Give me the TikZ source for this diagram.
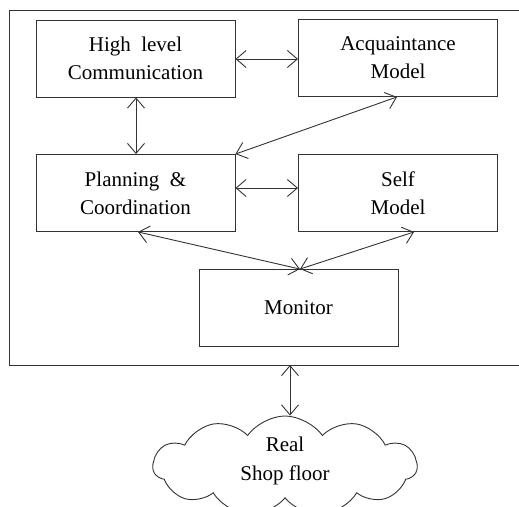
\documentclass[tikz,border=0pt]{standalone}
\usepackage{fontspec}
\setmainfont{Liberation Serif}
\usetikzlibrary{arrows.meta,shapes.symbols}
\begin{document}
\begin{tikzpicture}[x=1pt,y=-1pt,
  line/.style={draw=black!80,line width=0.9pt},
  block/.style={line,rectangle,minimum width=199pt,minimum height=77pt,
    inner sep=0pt,align=center,font=\fontsize{21}{28}\selectfont},
  link/.style={line,{Straight Barb[length=10pt,width=17pt]}-{Straight Barb[length=10pt,width=17pt]}},
]
\useasboundingbox (0,0) rectangle (519,506);
% outer frame (open to the right)
\draw[line] (519,10) -- (9,10) -- (9,365) -- (519,365);
\coordinate (frameb) at (290,365);

\node[block] (hlc) at (135.5,58.5) {High\ \ level\\Communication};
\node[block] (acq) at (398,58) {Acquaintance\\Model};
\node[block] (pc) at (135.5,193) {Planning\ \ \&\\Coordination};
\node[block] (self) at (398,193) {Self\\Model};
\node[block] (mon) at (298.5,308) {Monitor};
\node[line,cloud,cloud puffs=11,cloud puff arc=110,cloud ignores aspect,
  minimum width=264pt,minimum height=100pt,text depth=14pt,
  inner sep=0pt,align=center,font=\fontsize{21}{29}\selectfont] (shop) at (285,466)
  {Real\\Shop floor};

\draw[link] (hlc.east |- 0,59) -- (acq.west |- 0,59);
\draw[link] (hlc.south -| 136,0) -- (pc.north -| 136,0);
\draw[link] (acq.south -| 397,0) -- (pc.north east);
\draw[link] (pc.east |- 0,188) -- (self.west |- 0,188);
\draw[link] (pc.south -| 138,0) -- (mon.north -| 300,0);
\draw[link] (self.south -| 414,0) -- (mon.north -| 300,0);
\draw[link] (frameb) -- (shop.north -| frameb);
\end{tikzpicture}
\end{document}
